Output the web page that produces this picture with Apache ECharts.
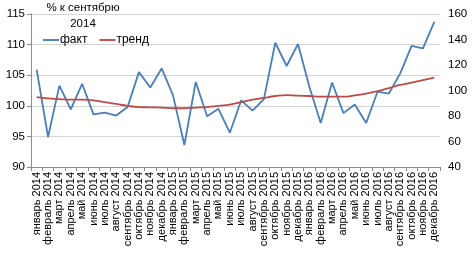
<!DOCTYPE html>
<html><head><meta charset="utf-8">
<script src="https://cdn.jsdelivr.net/npm/echarts@6/dist/echarts.min.js"></script>
<style>html,body{margin:0;padding:0;background:#fff}#c{width:472px;height:256px}</style>
</head><body><div id="c"></div>
<script>
const categories = ['январь 2014','февраль 2014','март 2014','апрель 2014','май 2014','июнь 2014','июль 2014','август 2014','сентябрь 2014','октябрь 2014','ноябрь 2014','декабрь 2014',
'январь 2015','февраль 2015','март 2015','апрель 2015','май 2015','июнь 2015','июль 2015','август 2015','сентябрь 2015','октябрь 2015','ноябрь 2015','декабрь 2015',
'январь 2016','февраль 2016','март 2016','апрель 2016','май 2016','июнь 2016','июль 2016','август 2016','сентябрь 2016','октябрь 2016','ноябрь 2016','декабрь 2016'];
const fact = [105.9,94.9,103.3,99.4,103.6,98.6,98.9,98.4,99.8,105.5,103.0,106.1,
101.7,93.6,103.9,98.3,99.5,95.6,100.9,99.2,101.1,110.3,106.5,110.1,
103.1,97.2,103.8,98.8,100.2,97.2,102.3,102.0,105.3,109.8,109.4,113.7];
const trend = [101.4,101.2,101.1,101.0,101.0,100.9,100.6,100.3,100.0,99.8,99.75,99.7,
99.6,99.6,99.7,99.8,100.0,100.2,100.6,101.0,101.3,101.6,101.75,101.65,
101.6,101.5,101.5,101.5,101.7,102.0,102.4,102.9,103.4,103.8,104.2,104.6];
const leftAxis = {min:90, max:115, interval:5};
const rightAxis = {min:40, max:160, interval:20};
const font = 'Liberation Sans';
const chart = echarts.init(document.getElementById('c'), null, {renderer:'canvas'});
chart.setOption({
  animation:false,
  backgroundColor:'#fff',
  title:{text:'% к сентябрю\n2014', left:78, top:-5, textAlign:'center',
    textStyle:{fontFamily:font, fontSize:11.5, fontWeight:'normal', color:'#000', lineHeight:16}},
  legend:{left:38, top:29, itemWidth:16, itemHeight:8, itemGap:12, icon:'rect',
    textStyle:{fontFamily:font, fontSize:12, color:'#000', padding:[0,0,0,-4]},
    data:[{name:'факт', icon:'path://M0,4L17,4L17,6L0,6Z'},{name:'тренд', icon:'path://M0,4L17,4L17,6L0,6Z'}]},
  grid:{left:31, right:32, top:14, bottom:89, containLabel:false},
  xAxis:{type:'category', data:categories, boundaryGap:true,
    axisLine:{lineStyle:{color:'#8c8c8c'}},
    axisTick:{show:true, length:4, lineStyle:{color:'#8c8c8c'}},
    axisLabel:{rotate:90, interval:0, fontFamily:font, fontSize:11, color:'#000', margin:5}},
  yAxis:[
    {type:'value', min:leftAxis.min, max:leftAxis.max, interval:leftAxis.interval,
     axisLine:{show:true, lineStyle:{color:'#8c8c8c'}},
     axisTick:{show:true, length:4, lineStyle:{color:'#8c8c8c'}},
     splitLine:{lineStyle:{color:'#d4d4d4'}},
     axisLabel:{fontFamily:font, fontSize:11.5, color:'#000', margin:6}},
    {type:'value', min:rightAxis.min, max:rightAxis.max, interval:rightAxis.interval, position:'right',
     axisLine:{show:false}, axisTick:{show:false}, splitLine:{show:false},
     axisLabel:{fontFamily:font, fontSize:11.5, color:'#000', margin:8}}
  ],
  series:[
    {name:'факт', type:'line', data:fact, yAxisIndex:0, symbol:'none',
     lineStyle:{color:'#4a7ebb', width:1.8}, itemStyle:{color:'#4a7ebb'}},
    {name:'тренд', type:'line', data:trend, yAxisIndex:0, symbol:'none', smooth:true,
     lineStyle:{color:'#be4b48', width:1.8}, itemStyle:{color:'#be4b48'}}
  ]
});
</script></body></html>
